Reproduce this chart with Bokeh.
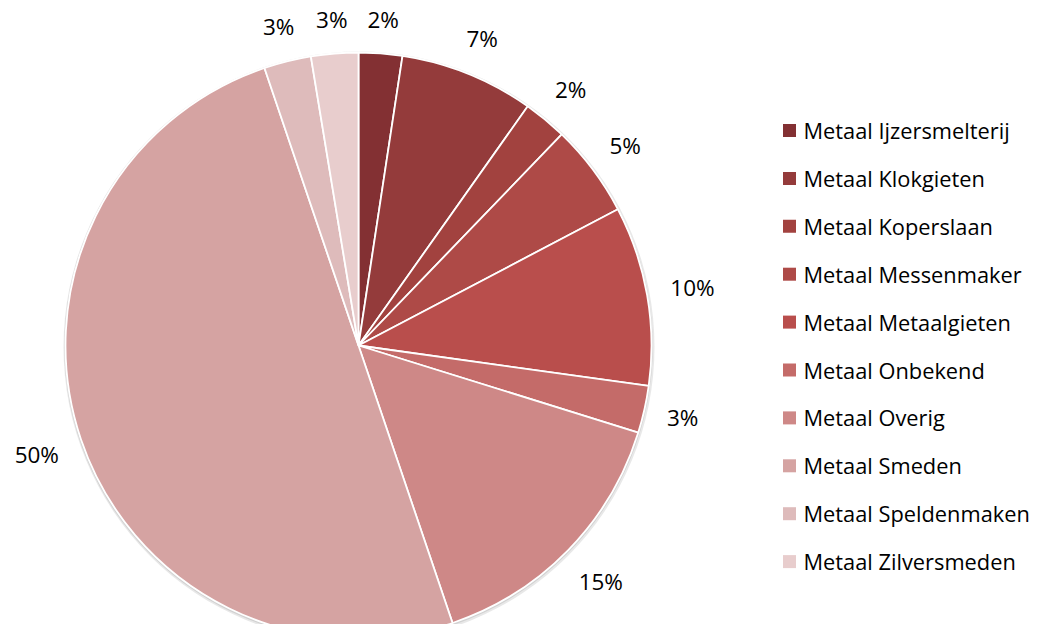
import math
from bokeh.plotting import figure
from bokeh.models import Range1d, ColumnDataSource
from bokeh.core.properties import value
from bokeh.embed import file_html
from bokeh.resources import INLINE

categories = ["Metaal Ijzersmelterij", "Metaal Klokgieten", "Metaal Koperslaan",
              "Metaal Messenmaker", "Metaal Metaalgieten", "Metaal Onbekend",
              "Metaal Overig", "Metaal Smeden", "Metaal Speldenmaken",
              "Metaal Zilversmeden"]
shares = [2.4, 7.4, 2.4, 5.1, 9.9, 2.6, 15.0, 50.0, 2.6, 2.6]
colors = ["#833033", "#943B3B", "#A2423F", "#AE4A47", "#B94E4C",
          "#C46B69", "#CE8887", "#D5A3A2", "#DEBBBB", "#E8CDCD"]

W, H = 1035, 624
CX, CY = 358, 345   # pie centre in page pixels
R = 293
FONT = "Open Sans"
FS_LEG = 21.8
FS_LAB = 22.5

p = figure(width=W, height=H, output_backend="svg", toolbar_location=None,
           x_range=Range1d(-CX, W - CX), y_range=Range1d(CY - H, CY),
           min_border=0)
p.axis.visible = False
p.grid.visible = False
p.outline_line_color = None

total = sum(shares)
starts, ends, mids = [], [], []
cum = 0.0
for s in shares:
    a0 = math.pi / 2 - cum / total * 2 * math.pi
    cum += s
    a1 = math.pi / 2 - cum / total * 2 * math.pi
    starts.append(a0)
    ends.append(a1)
    mids.append((a0 + a1) / 2)

# soft shadow
p.circle(x=[0.5], y=[-1.5], radius=R + 2.5, fill_color="#d8d8d8", line_color=None, fill_alpha=0.6)
p.circle(x=[0], y=[-1], radius=R + 1.2, fill_color="#c8c8c8", line_color=None, fill_alpha=0.7)

src = ColumnDataSource(dict(start=starts, end=ends, color=colors))
p.wedge(x=0, y=0, radius=R, start_angle="start", end_angle="end", direction="clock",
        fill_color="color", line_color="white", line_width=1.8, source=src)

# percentage labels
labels = [f"{round(s / total * 100 + 1e-9):.0f}%" for s in shares]
lx, ly = [], []
for lab, m in zip(labels, mids):
    hw = 7.2 * len(lab)
    hh = 10
    rr = R + 23 + hw * abs(math.cos(m)) + hh * abs(math.sin(m))
    lx.append(rr * math.cos(m))
    ly.append(rr * math.sin(m))
p.text(x=lx, y=ly, text=labels, text_align="center", text_baseline="middle",
       text_font=value(FONT), text_font_size=f"{FS_LAB}px", text_color="#000000")

# legend
leg_x = 789 - CX
ys = [CY - (130 + 47.9 * i) for i in range(len(categories))]
p.scatter(x=[leg_x] * len(categories), y=ys, marker="square", size=13,
          fill_color=colors, line_color=None)
p.text(x=[803 - CX] * len(categories), y=ys, text=categories, text_align="left",
       text_baseline="middle", text_font=value(FONT), text_font_size=f"{FS_LEG}px",
       text_color="#000000")

open("out.html", "w").write(file_html(p, INLINE))
